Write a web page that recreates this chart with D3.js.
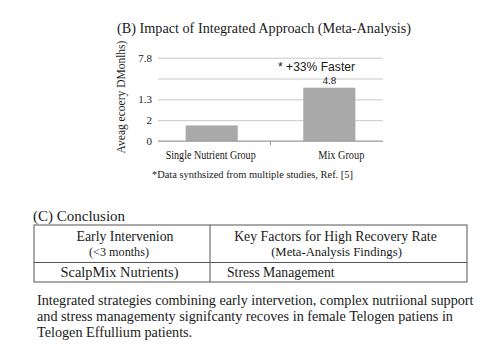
<!DOCTYPE html>
<html><head><meta charset="utf-8">
<script src="https://cdn.jsdelivr.net/npm/d3@7/dist/d3.min.js"></script>
<style>
html,body{margin:0;padding:0;background:#fff;}
svg{display:block;}
text{font-family:"Liberation Serif","Times New Roman",serif;fill:#1a1a1a;}
</style></head><body>
<svg id="c" width="491" height="355"></svg>
<script>
const categories = ["Single Nutrient Group", "Mix Group"];
const values = [1.4, 4.8];
const valueLabels = ["", "4.8"];
const yTickValues = [0, 1.875, 3.75, 5.625, 7.5];
const yTickLabels = ["0", "2", "1.3", "", "7.8"];
const tableRows = [
  [["Early Intervenion", "(<3 months)"], ["Key Factors for High Recovery Rate", "(Meta-Analysis Findings)"]],
  [["ScalpMix Nutrients)"], ["Stress Management"]]
];
const paragraph = [
  "Integrated strategies combining early intervetion, complex nutriional support",
  "and stress managementy signifcanty recoves in female Telogen patiens in",
  "Telogen Effullium patients."
];

const svg = d3.select("#c");
const x = d3.scaleBand().domain(categories).range([158, 383]).paddingInner(0.557).paddingOuter(0.235);
const y = d3.scaleLinear().domain([0, 7.5]).range([141, 57.7]);

svg.append("text").attr("x", 264).attr("y", 33).attr("text-anchor", "middle")
  .style("font-size", "14px").attr("textLength", 294).attr("lengthAdjust", "spacingAndGlyphs")
  .text("(B) Impact of Integrated Approach (Meta-Analysis)");

// gridlines
const yAxis = d3.axisLeft(y).tickValues(yTickValues).tickFormat((d, i) => yTickLabels[i])
  .tickSize(-(383 - 158)).tickPadding(6);
const ga = svg.append("g").attr("transform", "translate(158,0)").call(yAxis);
ga.select(".domain").remove();
ga.selectAll(".tick line").attr("stroke", "#c9c9c9").attr("stroke-width", 1);
ga.selectAll(".tick text").style("font-size", "11px").style("font-family", "'Liberation Serif',serif").attr("fill", "#222");

// bars
svg.selectAll("rect.bar").data(values).join("rect").attr("class", "bar")
  .attr("x", (d, i) => x(categories[i])).attr("width", x.bandwidth())
  .attr("y", d => y(d)).attr("height", d => y(0) - y(d)).attr("fill", "#a9a9a9");

// baseline
svg.append("line").attr("x1", 158).attr("x2", 383).attr("y1", y(0)).attr("y2", y(0)).attr("stroke", "#9a9a9a");
const mid = (x(categories[0]) + x.bandwidth() + x(categories[1])) / 2;
svg.append("line").attr("x1", mid).attr("x2", mid).attr("y1", y(0)).attr("y2", y(0) + 4).attr("stroke", "#9a9a9a");

// category labels
const catDx = [-1, 12];
const catLen = [90, 46];
svg.selectAll("text.cat").data(categories).join("text").attr("class", "cat")
  .attr("x", (d, i) => x(d) + x.bandwidth() / 2 + catDx[i]).attr("y", 158.5)
  .attr("text-anchor", "middle").style("font-size", "11.5px")
  .attr("textLength", (d, i) => catLen[i]).attr("lengthAdjust", "spacingAndGlyphs").text(d => d);

// value labels
svg.selectAll("text.vl").data(values).join("text").attr("class", "vl")
  .attr("x", (d, i) => x(categories[i]) + x.bandwidth() / 2).attr("y", d => y(d) - 3.5)
  .attr("text-anchor", "middle").style("font-size", "11px").attr("fill", "#333").text((d, i) => valueLabels[i]);

svg.append("text").attr("x", 316.5).attr("y", 71).attr("text-anchor", "middle")
  .style("font-size", "12.6px").style("font-family", "'Liberation Sans',Arial,sans-serif")
  .attr("textLength", 77).attr("lengthAdjust", "spacingAndGlyphs")
  .text("* +33% Faster");

svg.append("text").attr("transform", "translate(125,97) rotate(-90)").attr("text-anchor", "middle")
  .style("font-size", "11.5px").text("Aveag ecoery DMonlhs)");

svg.append("text").attr("x", 252.5).attr("y", 178).attr("text-anchor", "middle")
  .style("font-size", "10.4px").attr("textLength", 201).attr("lengthAdjust", "spacingAndGlyphs")
  .text("*Data synthsized from multiple studies, Ref. [5]");

svg.append("text").attr("x", 33).attr("y", 221).style("font-size", "15px").text("(C) Conclusion");

// table
const tx0 = 34, tx1 = 467, tcol = 210, ty0 = 225, ty1 = 262.5, ty2 = 282;
const tg = svg.append("g");
tg.append("rect").attr("x", tx0).attr("y", ty0).attr("width", tx1 - tx0).attr("height", ty2 - ty0)
  .attr("fill", "none").attr("stroke", "#555").attr("stroke-width", 1);
tg.append("line").attr("x1", tx0).attr("x2", tx1).attr("y1", ty1).attr("y2", ty1).attr("stroke", "#555");
tg.append("line").attr("x1", tcol).attr("x2", tcol).attr("y1", ty0).attr("y2", ty2).attr("stroke", "#555");

// header cells
const hdrX = [125, 335.5];
const hdrSub = [12.2, 12.7];
tableRows[0].forEach((cell, i) => {
  tg.append("text").attr("x", hdrX[i]).attr("y", 241).attr("text-anchor", "middle").style("font-size", "13.8px").text(cell[0]);
  tg.append("text").attr("x", hdrX[i] - (i === 0 ? 6 : -1)).attr("y", 256).attr("text-anchor", "middle").style("font-size", hdrSub[i] + "px").text(cell[1]);
});
tg.append("text").attr("x", 119.5).attr("y", 277).attr("text-anchor", "middle").style("font-size", "14.4px").text(tableRows[1][0][0]);
tg.append("text").attr("x", 227).attr("y", 277).style("font-size", "13.7px").text(tableRows[1][1][0]);

svg.selectAll("text.p").data(paragraph).join("text").attr("class", "p")
  .attr("x", 37).attr("y", (d, i) => 305 + i * 16).style("font-size", "14.2px").text(d => d);
</script>
</body></html>
